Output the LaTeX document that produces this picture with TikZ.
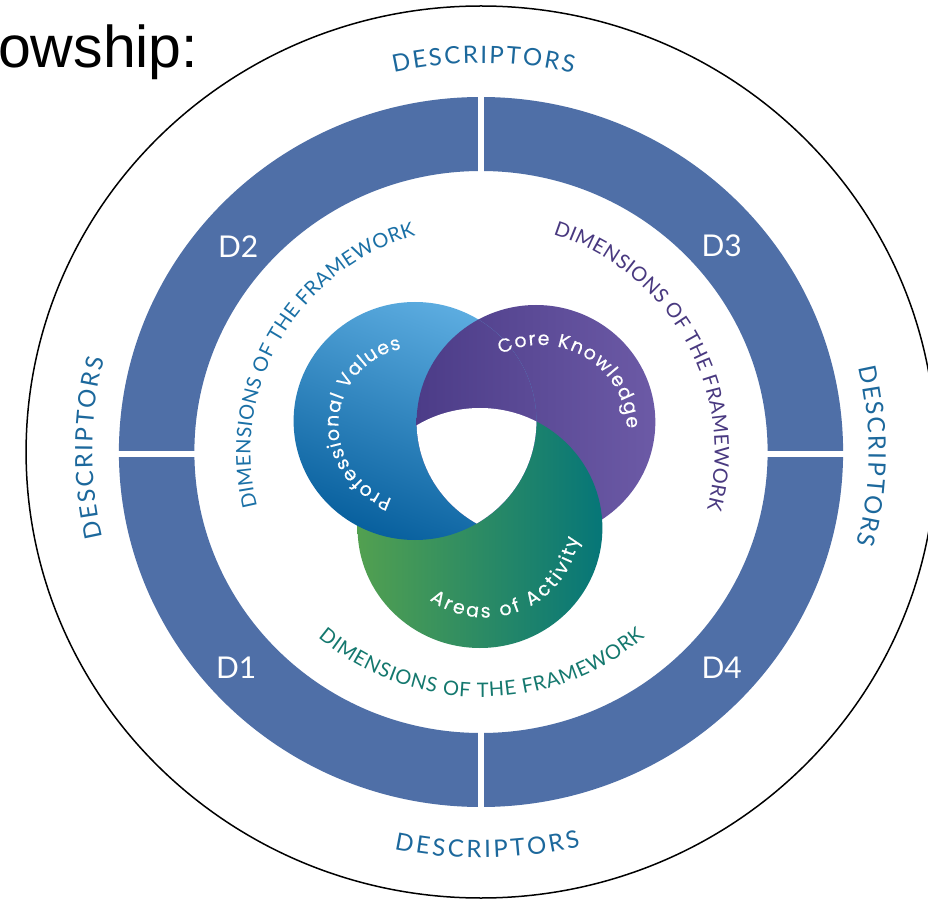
\documentclass[tikz,border=0pt]{standalone}
\usepackage{fontspec}
\usetikzlibrary{decorations.text}

\newfontfamily\capsfont{Lato}
\newfontfamily\ringfont[FakeBold=0.4]{Poppins}
\newfontfamily\headfont{Liberation Sans}

\definecolor{bandblue}{RGB}{79,111,167}
\definecolor{descblue}{RGB}{28,104,156}
\definecolor{dimblue}{RGB}{26,112,166}
\definecolor{dimpurple}{RGB}{73,57,128}
\definecolor{dimteal}{RGB}{20,120,110}
\definecolor{pvlight}{RGB}{92,172,224}
\definecolor{pvdark}{RGB}{8,96,158}
\definecolor{ckleft}{RGB}{76,60,136}
\definecolor{ckright}{RGB}{108,90,166}
\definecolor{aaleft}{RGB}{82,160,80}
\definecolor{aaright}{RGB}{6,118,120}

\tikzset{
  rim/.style={draw=black, line width=1.5pt},
  pvdisc/.style={top color=pvlight, bottom color=pvdark, shading angle=-20},
  ckdisc/.style={left color=ckleft, right color=ckright},
  aadisc/.style={left color=aaleft, right color=aaright},
  capsarc/.style 2 args={decorate, decoration={text along path, text align=fit to path,
      text color=#1, text={|\capsfont\fontsize{24}{27}\selectfont|#2}}},
  dimarc/.style 2 args={decorate, decoration={text along path, text align=fit to path,
      text color=#1, text={|\capsfont\fontsize{20}{23}\selectfont|#2}}},
  ringarc/.style={decorate, decoration={text along path, text align=fit to path,
      text color=white, text={|\ringfont\fontsize{19}{21}\selectfont|#1}}},
  dlabel/.style={text=white, font=\capsfont\fontsize{30}{33}\selectfont, inner sep=0pt},
}

\begin{document}
\begin{tikzpicture}[x=1pt,y=1pt]
\useasboundingbox (-481,-447) rectangle (447,452);
\fill[white] (-481,-447) rectangle (447,452);

% heading fragment at the top left
\node[anchor=base west, inner sep=0pt, font=\headfont\fontsize{59}{66}\selectfont]
  (heading) at (-483,384) {owship:};

\begin{scope}[xscale=1.02]
  % outer rim
  \draw[rim] (0,0) circle[radius=446];

  % band of the four descriptor quadrants
  \fill[bandblue, even odd rule] (0,0) circle[radius=355] (0,0) circle[radius=281];
  \fill[white] (-3.2,270) rectangle (3.2,365);
  \fill[white] (-3.2,-365) rectangle (3.2,-270);
  \fill[white] (-365,-5.2) rectangle (-270,1.2);
  \fill[white] (270,-5.2) rectangle (365,1.2);

  \node[dlabel] (d2) at (-238,205) {D2};
  \node[dlabel] (d3) at (236,206) {D3};
  \node[dlabel] (d1) at (-240,-216) {D1};
  \node[dlabel] (d4) at (236,-216) {D4};

  % descriptor labels round the rim
  \path[capsarc={descblue}{DESCRIPTORS}] (102.7:389) arc[start angle=102.7, end angle=76.6, radius=389];
  \path[capsarc={descblue}{DESCRIPTORS}] (257.9:406) arc[start angle=257.9, end angle=283.9, radius=406];
  \path[capsarc={descblue}{DESCRIPTORS}] (192.9:381) arc[start angle=192.9, end angle=165.9, radius=381];
  \path[capsarc={descblue}{DESCRIPTORS}] (12.9:380) arc[start angle=12.9, end angle=-14.1, radius=380];

  % dimension labels inside the band
  \path[dimarc={dimblue}{DIMENSIONS OF THE FRAMEWORK}] (194:226) arc[start angle=194, end angle=106.5, radius=226];
  \path[dimarc={dimpurple}{DIMENSIONS OF THE FRAMEWORK}] (72:229) arc[start angle=72, end angle=-14.5, radius=229];
  \path[dimarc={dimteal}{DIMENSIONS OF THE FRAMEWORK}] (229.3:245) arc[start angle=229.3, end angle=311, radius=245];

  % three interlaced discs
  \coordinate (pv) at (-64.7,31);
  \coordinate (ck) at (53.9,30);
  \coordinate (aa) at (-1,-76);

  \shade[ckdisc] (ck) circle[radius=117];
  \shade[aadisc] (aa) circle[radius=120];
  \shade[pvdisc] (pv) circle[radius=119];
  \begin{scope}
    \clip (pv) circle[radius=119];
    \shade[ckdisc] (ck) circle[radius=117];
  \end{scope}
  \begin{scope}
    \clip (pv) circle[radius=119];
    \clip (ck) circle[radius=117];
    \fill[white] (aa) circle[radius=120];
  \end{scope}

  % disc captions
  \path[ringarc={Professional Values}] ([shift={(-61.8,27)}]251:78) arc[start angle=251, end angle=102, radius=78];
  \path[ringarc={Core Knowledge}] ([shift={(58,22)}]117:85) arc[start angle=117, end angle=1, radius=85];
  \path[ringarc={Areas of Activity}] ([shift={(4,-73)}]234:92.5) arc[start angle=234, end angle=352, radius=92.5];
\end{scope}
\end{tikzpicture}
\end{document}
